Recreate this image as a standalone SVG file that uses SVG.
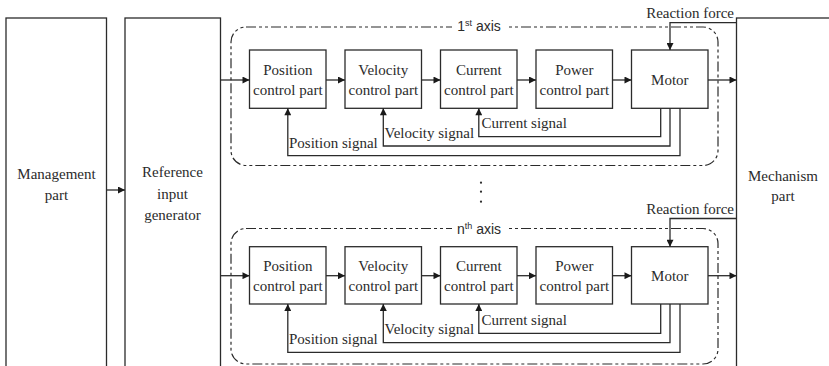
<svg xmlns="http://www.w3.org/2000/svg" width="829" height="366" viewBox="0 0 829 366">
<style>
.box{fill:#fff;stroke:#2b2b2b;stroke-width:1.3}
.ln{fill:none;stroke:#2b2b2b;stroke-width:1.3}
.ax{fill:none;stroke:#2b2b2b;stroke-width:1.2;stroke-dasharray:10 3 3 3 3 3}
.t{font-family:'Liberation Serif','DejaVu Serif',serif;font-size:15px;fill:#2b2b2b;text-anchor:middle}
.tl{font-family:'Liberation Serif','DejaVu Serif',serif;font-size:15px;fill:#2b2b2b}
.te{font-family:'Liberation Serif','DejaVu Serif',serif;font-size:15px;fill:#2b2b2b;text-anchor:end}
.s{font-family:'Liberation Sans','DejaVu Sans',sans-serif;font-size:14px;fill:#2b2b2b;text-anchor:middle}
</style>
<defs>
<marker id="ah" viewBox="0 0 10 10" refX="10" refY="5" markerWidth="8" markerHeight="7" markerUnits="userSpaceOnUse" orient="auto">
<path d="M0,0 L10,5 L0,10 z" fill="#1a1a1a"/>
</marker>
</defs>
<rect width="829" height="366" fill="#fff"/>

<g id="management">
<rect class="box" x="6" y="18" width="100.5" height="360"/>
<text class="t" x="56.5" y="179">Management</text>
<text class="t" x="56.5" y="200">part</text>
</g>
<g id="reference">
<rect class="box" x="125" y="18" width="95.5" height="360"/>
<text class="t" x="172.5" y="177">Reference</text>
<text class="t" x="172.5" y="198.5">input</text>
<text class="t" x="172.5" y="220">generator</text>
</g>
<g id="mechanism">
<rect class="box" x="736.5" y="18" width="100" height="360"/>
<text class="t" x="783" y="181">Mechanism</text>
<text class="t" x="783" y="201">part</text>
</g>

<g id="axis1">
<rect class="ax" x="231" y="27" width="487" height="138.5" rx="15" ry="15"/>
<rect x="452" y="20" width="54" height="14" fill="#fff"/>
<text class="s" x="479" y="31">1<tspan font-size="9" dy="-5">st</tspan><tspan dy="5"> axis</tspan></text>
</g>
<g id="axisn">
<rect class="ax" x="231" y="228.5" width="487" height="135.5" rx="15" ry="15"/>
<rect x="452" y="221.5" width="54" height="14" fill="#fff"/>
<text class="s" x="479" y="233.5">n<tspan font-size="9" dy="-5">th</tspan><tspan dy="5"> axis</tspan></text>
</g>

<g id="dots" fill="#2b2b2b">
<circle cx="481" cy="182.7" r="1.1"/>
<circle cx="481" cy="191.7" r="1.1"/>
<circle cx="481" cy="201.7" r="1.1"/>
</g>

<g id="pos1"><rect class="box" x="249.5" y="50" width="76.5" height="58.3"/><text class="t" x="287.8" y="75">Position</text><text class="t" x="287.8" y="95">control part</text></g>
<g id="vel1"><rect class="box" x="345" y="50" width="76.5" height="58.3"/><text class="t" x="383.3" y="75">Velocity</text><text class="t" x="383.3" y="95">control part</text></g>
<g id="cur1"><rect class="box" x="440.5" y="50" width="76.5" height="58.3"/><text class="t" x="478.8" y="75">Current</text><text class="t" x="478.8" y="95">control part</text></g>
<g id="pow1"><rect class="box" x="536" y="50" width="76.5" height="58.3"/><text class="t" x="574.3" y="75">Power</text><text class="t" x="574.3" y="95">control part</text></g>
<g id="mot1"><rect class="box" x="631.5" y="50" width="76.5" height="58.3"/><text class="t" x="669.8" y="85">Motor</text></g>

<g id="posn"><rect class="box" x="249.5" y="246.7" width="76.5" height="57.3"/><text class="t" x="287.8" y="271">Position</text><text class="t" x="287.8" y="291">control part</text></g>
<g id="veln"><rect class="box" x="345" y="246.7" width="76.5" height="57.3"/><text class="t" x="383.3" y="271">Velocity</text><text class="t" x="383.3" y="291">control part</text></g>
<g id="curn"><rect class="box" x="440.5" y="246.7" width="76.5" height="57.3"/><text class="t" x="478.8" y="271">Current</text><text class="t" x="478.8" y="291">control part</text></g>
<g id="pown"><rect class="box" x="536" y="246.7" width="76.5" height="57.3"/><text class="t" x="574.3" y="271">Power</text><text class="t" x="574.3" y="291">control part</text></g>
<g id="motn"><rect class="box" x="631.5" y="246.7" width="76.5" height="57.3"/><text class="t" x="669.8" y="281">Motor</text></g>

<g id="connectors">
<path class="ln" d="M106.5,190 H125" marker-end="url(#ah)"/>
<path class="ln" d="M220.5,80 H249.5" marker-end="url(#ah)"/>
<path class="ln" d="M326,80 H345" marker-end="url(#ah)"/>
<path class="ln" d="M421.5,80 H440.5" marker-end="url(#ah)"/>
<path class="ln" d="M517,80 H536" marker-end="url(#ah)"/>
<path class="ln" d="M612.5,80 H631.5" marker-end="url(#ah)"/>
<path class="ln" d="M708,80 H736.5" marker-end="url(#ah)"/>
<path class="ln" d="M736.5,22.7 H670 V50" marker-end="url(#ah)"/>
<path class="ln" d="M660.7,108.3 V136.7 H478.8 V108.3" marker-end="url(#ah)"/>
<path class="ln" d="M670,108.3 V146 H383.3 V108.3" marker-end="url(#ah)"/>
<path class="ln" d="M680,108.3 V155.7 H287.8 V108.3" marker-end="url(#ah)"/>
<path class="ln" d="M220.5,275.7 H249.5" marker-end="url(#ah)"/>
<path class="ln" d="M326,275.7 H345" marker-end="url(#ah)"/>
<path class="ln" d="M421.5,275.7 H440.5" marker-end="url(#ah)"/>
<path class="ln" d="M517,275.7 H536" marker-end="url(#ah)"/>
<path class="ln" d="M612.5,275.7 H631.5" marker-end="url(#ah)"/>
<path class="ln" d="M708,275.7 H736.5" marker-end="url(#ah)"/>
<path class="ln" d="M736.5,218.5 H670 V246.7" marker-end="url(#ah)"/>
<path class="ln" d="M660.7,304 V333.3 H478.8 V304" marker-end="url(#ah)"/>
<path class="ln" d="M670,304 V342.7 H383.3 V304" marker-end="url(#ah)"/>
<path class="ln" d="M680,304 V352.3 H287.8 V304" marker-end="url(#ah)"/>
</g>

<g id="labels">
<text class="te" x="734" y="17.5">Reaction force</text>
<text class="tl" x="481.5" y="128">Current signal</text>
<text class="tl" x="384.5" y="137.5">Velocity signal</text>
<text class="tl" x="289" y="147.5">Position signal</text>
<text class="te" x="734" y="213.5">Reaction force</text>
<text class="tl" x="481.5" y="324.5">Current signal</text>
<text class="tl" x="384.5" y="334">Velocity signal</text>
<text class="tl" x="289" y="344">Position signal</text>
</g>
</svg>
